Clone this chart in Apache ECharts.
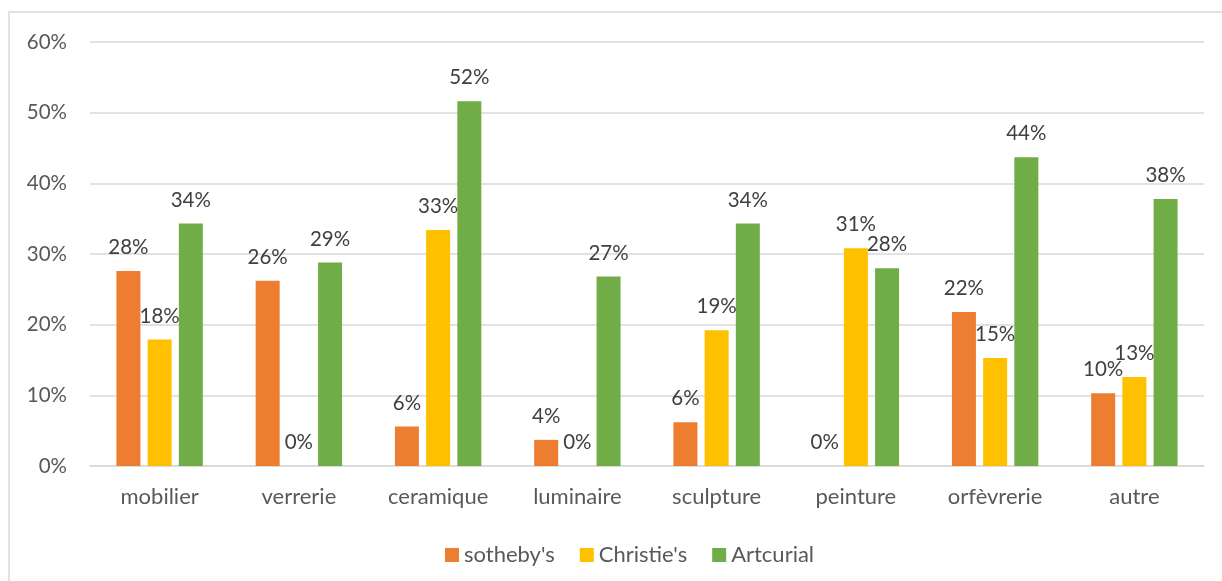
<!DOCTYPE html>
<html>
<head>
<meta charset="utf-8">
<script src="https://cdn.jsdelivr.net/npm/echarts@6/dist/echarts.min.js"></script>
<style>
html,body{margin:0;padding:0;background:#fff;}
#c{width:1222px;height:581px;}
</style>
</head>
<body>
<div id="c"></div>
<script>
const categories = ['mobilier','verrerie','ceramique','luminaire','sculpture','peinture','orfèvrerie','autre'];
const sothebys = [27.6, 26.2, 5.6, 3.7, 6.2, 0, 21.8, 10.3];
const christies = [17.9, 0, 33.4, 0, 19.2, 30.8, 15.3, 12.6];
const artcurial = [34.3, 28.8, 51.6, 26.8, 34.3, 28.0, 43.7, 37.8];
const seriesNames = ["sotheby's", "Christie's", "Artcurial"];
const yTicks = {min: 0, max: 60, interval: 10};

const FONT = 'Lato, "Open Sans", sans-serif';
const colors = ['#ED7D31', '#FFC000', '#70AD47'];
const chart = echarts.init(document.getElementById('c'), null, {renderer: 'canvas'});

function mkSeries(name, data, color) {
  return {
    name: name,
    type: 'bar',
    data: data,
    barWidth: 24,
    barGap: '30%',
    itemStyle: {color: color},
    label: {
      show: true,
      position: 'top',
      distance: 13,
      color: '#404040',
      fontFamily: FONT,
      fontSize: 20.5,
      formatter: p => Math.round(p.value) + '%'
    }
  };
}

chart.setOption({
  animation: false,
  backgroundColor: '#ffffff',
  color: colors,
  graphic: [{
    type: 'rect',
    shape: {x: 9, y: 12, width: 1400, height: 800},
    style: {fill: 'none', stroke: '#d9d9d9', lineWidth: 1.5},
    silent: true,
    z: -1
  }],
  grid: {left: 90, right: 18, top: 42, bottom: 115, containLabel: false},
  legend: {
    top: 539,
    left: 440,
    itemWidth: 14,
    itemHeight: 14,
    itemGap: 25,
    icon: 'rect',
    textStyle: {color: '#595959', fontFamily: FONT, fontSize: 22},
    data: seriesNames
  },
  xAxis: {
    type: 'category',
    data: categories,
    axisLine: {show: true, lineStyle: {color: '#d9d9d9', width: 1.5}},
    axisTick: {show: false},
    axisLabel: {color: '#595959', fontFamily: FONT, fontSize: 22, margin: 20}
  },
  yAxis: {
    type: 'value',
    min: yTicks.min,
    max: yTicks.max,
    interval: yTicks.interval,
    axisLine: {show: false},
    axisTick: {show: false},
    splitLine: {lineStyle: {color: '#d9d9d9', width: 1.5}},
    axisLabel: {color: '#595959', fontFamily: FONT, fontSize: 20.5, margin: 23, formatter: v => v + '%'}
  },
  series: [
    mkSeries(seriesNames[0], sothebys, colors[0]),
    mkSeries(seriesNames[1], christies, colors[1]),
    mkSeries(seriesNames[2], artcurial, colors[2])
  ]
});
</script>
</body>
</html>
